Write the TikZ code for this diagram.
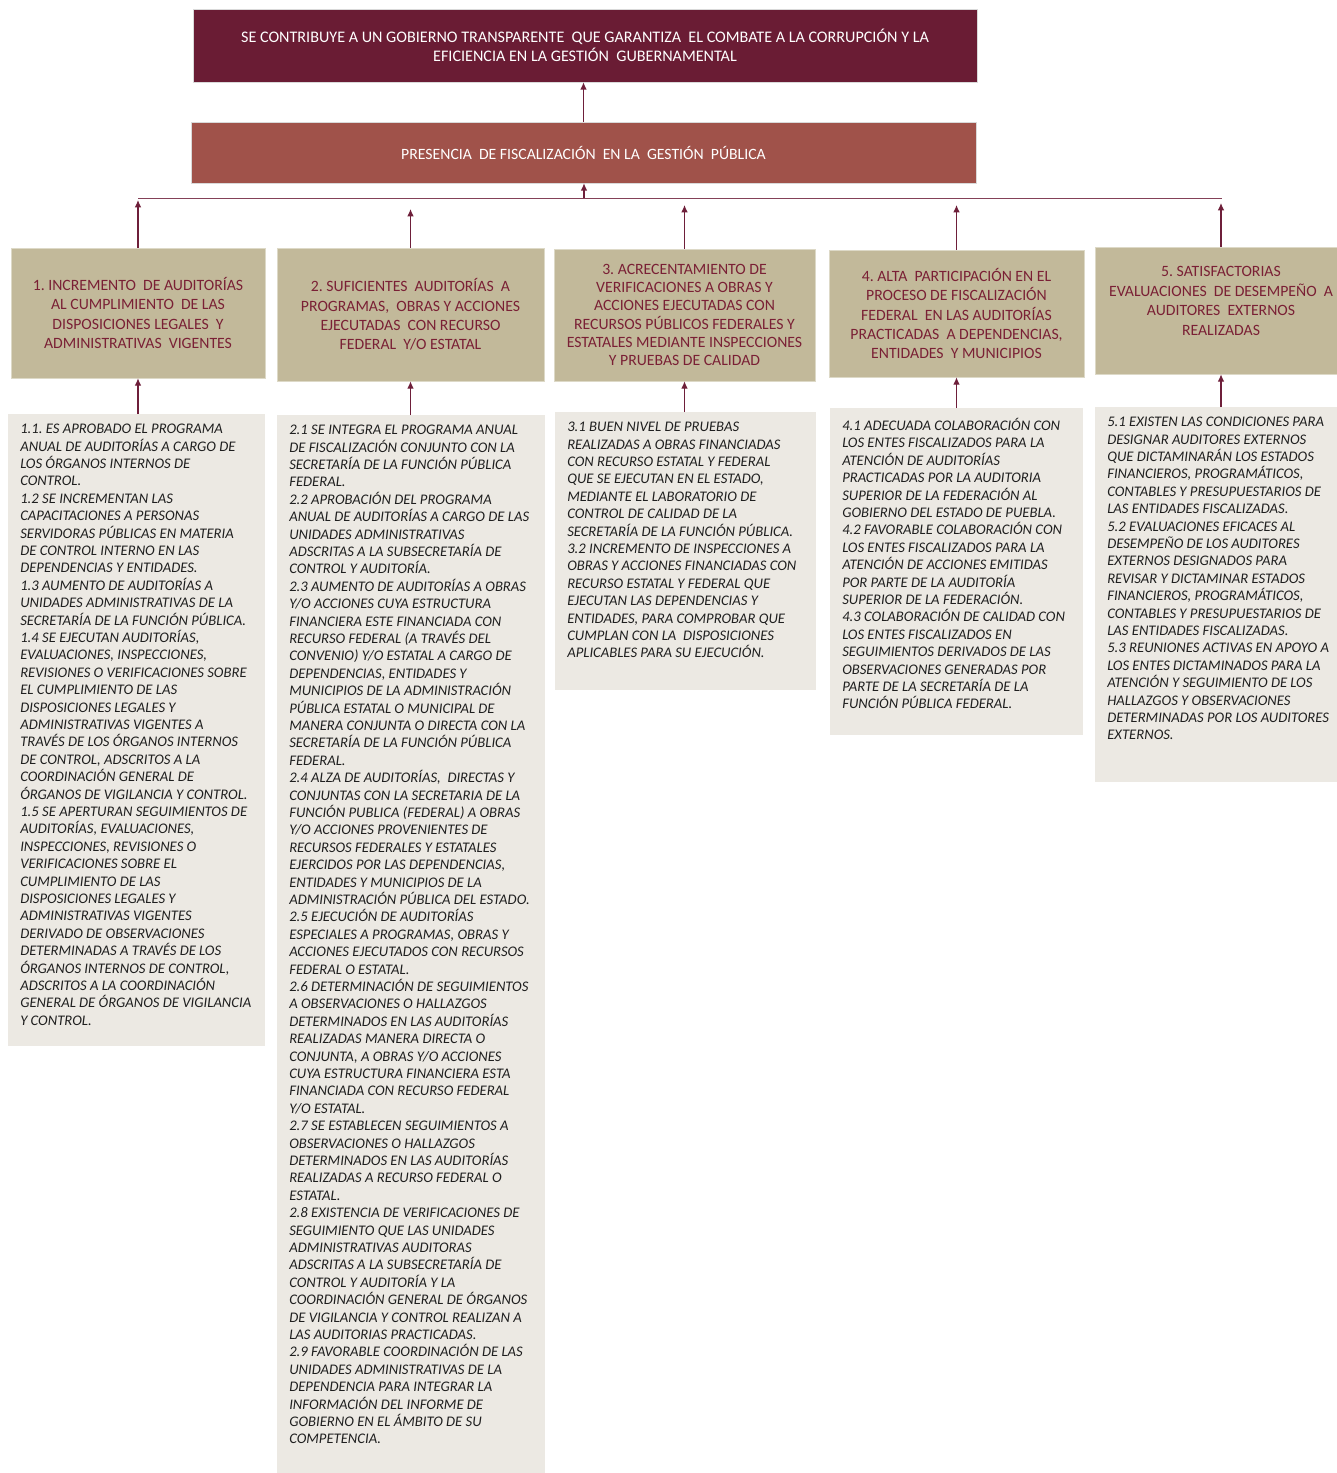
\documentclass[tikz,border=0pt]{standalone}
\usepackage{fontspec}
\setmainfont{Carlito}
\usetikzlibrary{arrows.meta,positioning}
\frenchspacing
\definecolor{goalred}{HTML}{6A1C34}
\definecolor{purpred}{HTML}{A0524A}
\definecolor{tanfill}{HTML}{C2B99A}
\definecolor{actfill}{HTML}{ECE9E3}
\definecolor{wine}{HTML}{7A2035}
\definecolor{linkred}{HTML}{6E1F3A}
\newcommand{\actlist}[3]{\parbox[c][#2][t]{#1}{\raggedright\fontsize{11}{13.05}\selectfont\itshape #3}}

\begin{document}
\begin{tikzpicture}[
    x=0.75pt, y=-0.75pt,
    goal_box/.style={draw=gray!30, fill=goalred, text=white, align=center, inner sep=0pt,
        font=\fontsize{12.1}{14.25}\selectfont},
    purpose_box/.style={draw=gray!30, fill=purpred, text=white, align=center, inner sep=0pt,
        font=\fontsize{11.8}{14.25}\selectfont},
    comp_box/.style={draw=tanfill!55, fill=tanfill, text=wine, align=center, inner sep=0pt,
        font=\fontsize{11.8}{14.6}\selectfont},
    act_box/.style={draw=actfill, fill=actfill, text=black!88, anchor=north west,
        inner xsep=9pt, inner ysep=7.5pt},
    link/.style={-{Latex[length=5.5pt,width=5pt]}, draw=linkred, line width=0.9pt},
    bus/.style={draw=linkred!85, line width=0.8pt}
]
\useasboundingbox (0,0) rectangle (1337,1473);

% --- NODES ---
\node[goal_box, minimum width=588pt, minimum height=54.75pt] (goal) at (585,45.5)
    {SE CONTRIBUYE A UN GOBIERNO TRANSPARENTE\ \ QUE GARANTIZA\ \ EL COMBATE A LA CORRUPCIÓN Y LA\\
     EFICIENCIA EN LA GESTIÓN\ \ GUBERNAMENTAL};
\node[purpose_box, minimum width=588.75pt, minimum height=45.75pt] (purpose) at (583.5,152.5)
    {PRESENCIA\ \ DE FISCALIZACIÓN\ \ EN LA\ \ GESTIÓN\ \ PÚBLICA};

\node[comp_box, minimum width=190.5pt, minimum height=97.5pt] (c1) at (138,313)
    {1. INCREMENTO\ \ DE AUDITORÍAS\\ AL CUMPLIMIENTO\ \ DE LAS\\
     DISPOSICIONES LEGALES\ \ Y\\ ADMINISTRATIVAS\ \ VIGENTES};
\node[comp_box, minimum width=200.25pt, minimum height=99.75pt] (c2) at (410.5,314.5)
    {2. SUFICIENTES\ \ AUDITORÍAS\ \ A\\ PROGRAMAS,\ \ OBRAS Y ACCIONES\\
     EJECUTADAS\ \ CON RECURSO\\ FEDERAL\ \ Y/O ESTATAL};
\node[comp_box, minimum width=195.75pt, minimum height=99pt,
      font=\fontsize{11.8}{13.65}\selectfont] (c3) at (684.5,315)
    {3. ACRECENTAMIENTO DE\\ VERIFICACIONES A OBRAS Y\\ ACCIONES EJECUTADAS CON\\
     RECURSOS PÚBLICOS FEDERALES Y\\ ESTATALES MEDIANTE INSPECCIONES\\ Y PRUEBAS DE CALIDAD};
\node[comp_box, minimum width=191.25pt, minimum height=95.25pt] (c4) at (956.5,313.5)
    {4. ALTA\ \ PARTICIPACIÓN EN EL\\ PROCESO DE FISCALIZACIÓN\\
     FEDERAL\ \ EN LAS AUDITORÍAS\\ PRACTICADAS\ \ A DEPENDENCIAS,\\ ENTIDADES\ \ Y MUNICIPIOS};
\node[comp_box, minimum width=189pt, minimum height=95.25pt] (c5) at (1221,310.5)
    {5. SATISFACTORIAS\\ EVALUACIONES\ \ DE DESEMPEÑO\ \ A\\ AUDITORES\ \ EXTERNOS\\ REALIZADAS\\ ~};

\node[act_box] (a1) at (8,414) {\actlist{174pt}{458.25pt}{%
1.1. ES APROBADO EL PROGRAMA\\ ANUAL DE AUDITORÍAS A CARGO DE\\ LOS ÓRGANOS INTERNOS DE\\ CONTROL.\\
1.2 SE INCREMENTAN LAS\\ CAPACITACIONES A PERSONAS\\ SERVIDORAS PÚBLICAS EN MATERIA\\
DE CONTROL INTERNO EN LAS\\ DEPENDENCIAS Y ENTIDADES.\\
1.3 AUMENTO DE AUDITORÍAS A\\ UNIDADES ADMINISTRATIVAS DE LA\\ SECRETARÍA DE LA FUNCIÓN PÚBLICA.\\
1.4 SE EJECUTAN AUDITORÍAS,\\ EVALUACIONES, INSPECCIONES,\\ REVISIONES O VERIFICACIONES SOBRE\\
EL CUMPLIMIENTO DE LAS\\ DISPOSICIONES LEGALES Y\\ ADMINISTRATIVAS VIGENTES A\\
TRAVÉS DE LOS ÓRGANOS INTERNOS\\ DE CONTROL, ADSCRITOS A LA\\ COORDINACIÓN GENERAL DE\\
ÓRGANOS DE VIGILANCIA Y CONTROL.\\
1.5 SE APERTURAN SEGUIMIENTOS DE\\ AUDITORÍAS, EVALUACIONES,\\ INSPECCIONES, REVISIONES O\\
VERIFICACIONES SOBRE EL\\ CUMPLIMIENTO DE LAS\\ DISPOSICIONES LEGALES Y\\
ADMINISTRATIVAS VIGENTES\\ DERIVADO DE OBSERVACIONES\\ DETERMINADAS A TRAVÉS DE LOS\\
ÓRGANOS INTERNOS DE CONTROL,\\ ADSCRITOS A LA COORDINACIÓN\\ GENERAL DE ÓRGANOS DE VIGILANCIA\\
Y CONTROL.}};

\node[act_box] (a2) at (277,415) {\actlist{182.25pt}{778.5pt}{%
2.1 SE INTEGRA EL PROGRAMA ANUAL\\ DE FISCALIZACIÓN CONJUNTO CON LA\\ SECRETARÍA DE LA FUNCIÓN PÚBLICA\\ FEDERAL.\\
2.2 APROBACIÓN DEL PROGRAMA\\ ANUAL DE AUDITORÍAS A CARGO DE LAS\\ UNIDADES ADMINISTRATIVAS\\
ADSCRITAS A LA SUBSECRETARÍA DE\\ CONTROL Y AUDITORÍA.\\
2.3 AUMENTO DE AUDITORÍAS A OBRAS\\ Y/O ACCIONES CUYA ESTRUCTURA\\ FINANCIERA ESTE FINANCIADA CON\\
RECURSO FEDERAL (A TRAVÉS DEL\\ CONVENIO) Y/O ESTATAL A CARGO DE\\ DEPENDENCIAS, ENTIDADES Y\\
MUNICIPIOS DE LA ADMINISTRACIÓN\\ PÚBLICA ESTATAL O MUNICIPAL DE\\ MANERA CONJUNTA O DIRECTA CON LA\\
SECRETARÍA DE LA FUNCIÓN PÚBLICA\\ FEDERAL.\\
2.4 ALZA DE AUDITORÍAS,\ \ DIRECTAS Y\\ CONJUNTAS CON LA SECRETARIA DE LA\\ FUNCIÓN PUBLICA (FEDERAL) A OBRAS\\
Y/O ACCIONES PROVENIENTES DE\\ RECURSOS FEDERALES Y ESTATALES\\ EJERCIDOS POR LAS DEPENDENCIAS,\\
ENTIDADES Y MUNICIPIOS DE LA\\ ADMINISTRACIÓN PÚBLICA DEL ESTADO.\\
2.5 EJECUCIÓN DE AUDITORÍAS\\ ESPECIALES A PROGRAMAS, OBRAS Y\\ ACCIONES EJECUTADOS CON RECURSOS\\
FEDERAL O ESTATAL.\\
2.6 DETERMINACIÓN DE SEGUIMIENTOS\\ A OBSERVACIONES O HALLAZGOS\\ DETERMINADOS EN LAS AUDITORÍAS\\
REALIZADAS MANERA DIRECTA O\\ CONJUNTA, A OBRAS Y/O ACCIONES\\ CUYA ESTRUCTURA FINANCIERA ESTA\\
FINANCIADA CON RECURSO FEDERAL\\ Y/O ESTATAL.\\
2.7 SE ESTABLECEN SEGUIMIENTOS A\\ OBSERVACIONES O HALLAZGOS\\ DETERMINADOS EN LAS AUDITORÍAS\\
REALIZADAS A RECURSO FEDERAL O\\ ESTATAL.\\
2.8 EXISTENCIA DE VERIFICACIONES DE\\ SEGUIMIENTO QUE LAS UNIDADES\\ ADMINISTRATIVAS AUDITORAS\\
ADSCRITAS A LA SUBSECRETARÍA DE\\ CONTROL Y AUDITORÍA Y LA\\ COORDINACIÓN GENERAL DE ÓRGANOS\\
DE VIGILANCIA Y CONTROL REALIZAN A\\ LAS AUDITORIAS PRACTICADAS.\\
2.9 FAVORABLE COORDINACIÓN DE LAS\\ UNIDADES ADMINISTRATIVAS DE LA\\ DEPENDENCIA PARA INTEGRAR LA\\
INFORMACIÓN DEL INFORME DE\\ GOBIERNO EN EL ÁMBITO DE SU\\ COMPETENCIA.}};

\node[act_box] (a3) at (555,412) {\actlist{177pt}{192.75pt}{%
3.1 BUEN NIVEL DE PRUEBAS\\ REALIZADAS A OBRAS FINANCIADAS\\ CON RECURSO ESTATAL Y FEDERAL\\
QUE SE EJECUTAN EN EL ESTADO,\\ MEDIANTE EL LABORATORIO DE\\ CONTROL DE CALIDAD DE LA\\
SECRETARÍA DE LA FUNCIÓN PÚBLICA.\\
3.2 INCREMENTO DE INSPECCIONES A\\ OBRAS Y ACCIONES FINANCIADAS CON\\ RECURSO ESTATAL Y FEDERAL QUE\\
EJECUTAN LAS DEPENDENCIAS Y\\ ENTIDADES, PARA COMPROBAR QUE\\ CUMPLAN CON LA\ \ DISPOSICIONES\\
APLICABLES PARA SU EJECUCIÓN.}};

\node[act_box] (a4) at (830,408) {\actlist{171pt}{229.5pt}{%
4.1 ADECUADA COLABORACIÓN CON\\ LOS ENTES FISCALIZADOS PARA LA\\ ATENCIÓN DE AUDITORÍAS\\
PRACTICADAS POR LA AUDITORIA\\ SUPERIOR DE LA FEDERACIÓN AL\\ GOBIERNO DEL ESTADO DE PUEBLA.\\
4.2 FAVORABLE COLABORACIÓN CON\\ LOS ENTES FISCALIZADOS PARA LA\\ ATENCIÓN DE ACCIONES EMITIDAS\\
POR PARTE DE LA AUDITORÍA\\ SUPERIOR DE LA FEDERACIÓN.\\
4.3 COLABORACIÓN DE CALIDAD CON\\ LOS ENTES FISCALIZADOS EN\\ SEGUIMIENTOS DERIVADOS DE LAS\\
OBSERVACIONES GENERADAS POR\\ PARTE DE LA SECRETARÍA DE LA\\ FUNCIÓN PÚBLICA FEDERAL.}};

\node[act_box] (a5) at (1095,407) {\actlist{171pt}{265.5pt}{%
5.1 EXISTEN LAS CONDICIONES PARA\\ DESIGNAR AUDITORES EXTERNOS\\ QUE DICTAMINARÁN LOS ESTADOS\\
FINANCIEROS, PROGRAMÁTICOS,\\ CONTABLES Y PRESUPUESTARIOS DE\\ LAS ENTIDADES FISCALIZADAS.\\
5.2 EVALUACIONES EFICACES AL\\ DESEMPEÑO DE LOS AUDITORES\\ EXTERNOS DESIGNADOS PARA\\
REVISAR Y DICTAMINAR ESTADOS\\ FINANCIEROS, PROGRAMÁTICOS,\\ CONTABLES Y PRESUPUESTARIOS DE\\
LAS ENTIDADES FISCALIZADAS.\\
5.3 REUNIONES ACTIVAS EN APOYO A\\ LOS ENTES DICTAMINADOS PARA LA\\ ATENCIÓN Y SEGUIMIENTO DE LOS\\
HALLAZGOS Y OBSERVACIONES\\ DETERMINADAS POR LOS AUDITORES\\ EXTERNOS.}};

% bus line and arrow tips below it
\coordinate (busL) at (138,198.5);
\coordinate (busM) at (584,198.5);
\coordinate (busR) at (1222,198.5);
\coordinate (t1) at (138,200);
\coordinate (t2) at (410.5,209);
\coordinate (t3) at (684.5,205);
\coordinate (t4) at (956.5,205);
\coordinate (t5) at (1221,203);

% --- EDGES ---
\draw[link] (purpose.north) -- (purpose.north |- goal.south);
\draw[bus] (busL) -- (busR);
\draw[link] (busM) -- (busM |- purpose.south);

\draw[link] (c1.north) -- (t1);
\draw[link] (c2.north) -- (t2);
\draw[link] (c3.north) -- (t3);
\draw[link] (c4.north) -- (t4);
\draw[link] (c5.north) -- (t5);

\draw[link] (a1.north -| c1.south) -- (c1.south);
\draw[link] (a2.north -| c2.south) -- (c2.south);
\draw[link] (a3.north -| c3.south) -- (c3.south);
\draw[link] (a4.north -| c4.south) -- (c4.south);
\draw[link] (a5.north -| c5.south) -- (c5.south);

\end{tikzpicture}
\end{document}
